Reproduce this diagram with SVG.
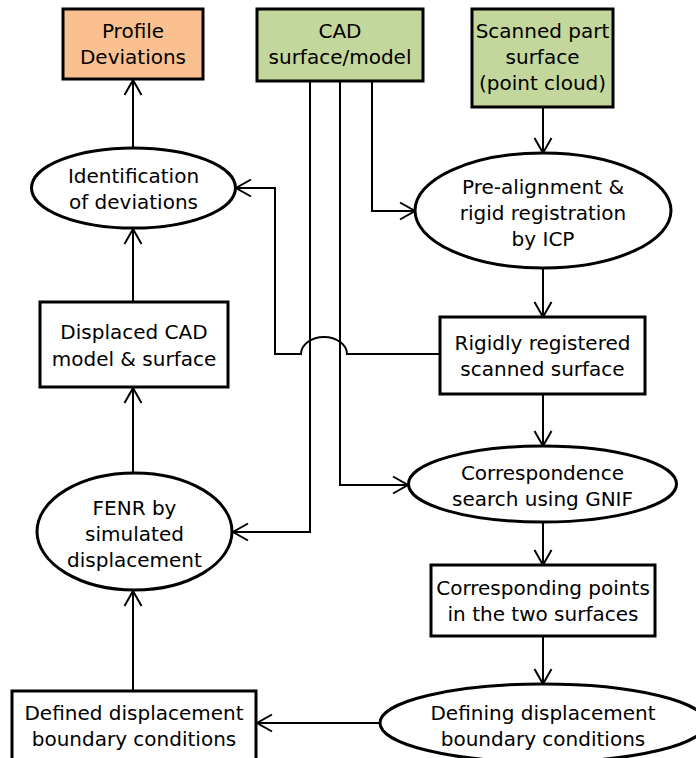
<svg xmlns="http://www.w3.org/2000/svg" width="696" height="758" viewBox="0 0 696 758">
<defs>
<marker id="arr" markerUnits="userSpaceOnUse" markerWidth="20" markerHeight="20" viewBox="-16 -10 18 20" refX="0" refY="0" orient="auto">
<path d="M-15,-8.5 L0,0 L-15,8.5" fill="none" stroke="#000" stroke-width="2"/>
</marker>
</defs>
<style>
.box{stroke:#000;stroke-width:3;}
.plain{fill:#fff;}
.green{fill:#C3D69B;}
.peach{fill:#FAC090;}
.ell{fill:#fff;stroke:#000;stroke-width:3;}
text{font-family:"DejaVu Sans","Liberation Sans",sans-serif;font-size:20px;fill:#000;text-anchor:middle;}
.con{fill:none;stroke:#000;stroke-width:2;marker-end:url(#arr);}
</style>
<rect width="696" height="758" fill="#fff"/>
<g id="connectors">
<path class="con" d="M133,148 L133,80"/>
<path class="con" d="M133,302 L133,229"/>
<path class="con" d="M133,473 L133,388"/>
<path class="con" d="M133,690 L133,591"/>
<path class="con" d="M380,723 L257,723"/>
<path class="con" d="M543,636 L543,684"/>
<path class="con" d="M543,522 L543,565"/>
<path class="con" d="M543,394 L543,446"/>
<path class="con" d="M543,268 L543,317"/>
<path class="con" d="M543,107 L543,153"/>
<path class="con" d="M372,81 L372,211 L415,211"/>
<path class="con" d="M340,81 L340,485 L408,485"/>
<path class="con" d="M310,81 L310,532 L233,532"/>
<path class="con" d="M440,354 L347,354 A23,17 0 0 0 301,354 L275,354 L275,188 L236,188"/>
</g>
<g id="profile">
<rect class="box peach" x="63" y="9" width="140" height="70"/>
<text x="133" y="38">Profile</text>
<text x="133" y="64">Deviations</text>
</g>
<g id="cad">
<rect class="box green" x="257" y="9" width="166" height="72"/>
<text x="340" y="38">CAD</text>
<text x="340" y="64">surface/model</text>
</g>
<g id="scanned">
<rect class="box green" x="472" y="9" width="141" height="98"/>
<text x="542.5" y="38">Scanned part</text>
<text x="542.5" y="64">surface</text>
<text x="542.5" y="90">(point cloud)</text>
</g>
<g id="identification">
<ellipse class="ell" cx="133.5" cy="188" rx="102" ry="40"/>
<text x="133.5" y="183">Identification</text>
<text x="133.5" y="209">of deviations</text>
</g>
<g id="prealign">
<ellipse class="ell" cx="543" cy="210.5" rx="128" ry="57.5"/>
<text x="543" y="194">Pre-alignment &amp;</text>
<text x="543" y="220">rigid registration</text>
<text x="543" y="246">by ICP</text>
</g>
<g id="displaced">
<rect class="box plain" x="40" y="302" width="188" height="85"/>
<text x="134" y="339">Displaced CAD</text>
<text x="134" y="366">model &amp; surface</text>
</g>
<g id="rigidly">
<rect class="box plain" x="440" y="317" width="205" height="77"/>
<text x="542.5" y="350">Rigidly registered</text>
<text x="542.5" y="376">scanned surface</text>
</g>
<g id="correspondence">
<ellipse class="ell" cx="542.5" cy="484" rx="134" ry="38"/>
<text x="542.5" y="480">Correspondence</text>
<text x="542.5" y="506">search using GNIF</text>
</g>
<g id="fenr">
<ellipse class="ell" cx="134.5" cy="531.5" rx="97.5" ry="58.5"/>
<text x="134.5" y="515">FENR by</text>
<text x="134.5" y="541">simulated</text>
<text x="134.5" y="567">displacement</text>
</g>
<g id="corresponding">
<rect class="box plain" x="431" y="565" width="224" height="71"/>
<text x="543" y="595">Corresponding points</text>
<text x="543" y="621">in the two surfaces</text>
</g>
<g id="defining">
<ellipse class="ell" cx="543" cy="723" rx="163" ry="39"/>
<text x="543" y="720">Defining displacement</text>
<text x="543" y="746">boundary conditions</text>
</g>
<g id="defined">
<rect class="box plain" x="12" y="691" width="244" height="80"/>
<text x="134" y="720">Defined displacement</text>
<text x="134" y="746">boundary conditions</text>
</g>
</svg>
